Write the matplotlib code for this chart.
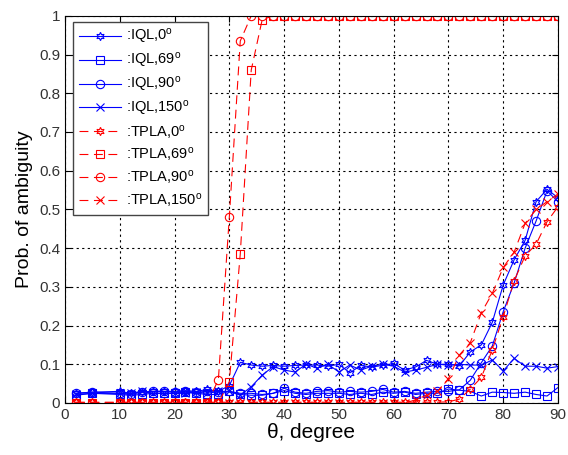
import numpy as np
import matplotlib.pyplot as plt
from matplotlib.ticker import FuncFormatter

plt.rcParams['font.family'] = 'Liberation Sans'
plt.rcParams['mathtext.default'] = 'regular'

# angles: 2, 5, then 10:2:90
theta = [2, 5] + list(range(10, 91, 2))

iql_0 = [0.025, 0.028, 0.030, 0.025, 0.028, 0.030, 0.030, 0.030, 0.032, 0.030,
         0.035, 0.030, 0.045, 0.105, 0.098, 0.095, 0.097, 0.095, 0.097, 0.098,
         0.098, 0.095, 0.100, 0.078, 0.097, 0.093, 0.097, 0.102, 0.085, 0.093,
         0.110, 0.100, 0.100, 0.096, 0.132, 0.150, 0.208, 0.305, 0.370, 0.420,
         0.520, 0.552, 0.530]
iql_69 = [0.020, 0.025, 0.022, 0.020, 0.022, 0.025, 0.025, 0.025, 0.028, 0.025,
          0.022, 0.022, 0.030, 0.022, 0.020, 0.020, 0.025, 0.032, 0.025, 0.022,
          0.025, 0.025, 0.025, 0.022, 0.025, 0.022, 0.028, 0.025, 0.028, 0.022,
          0.025, 0.025, 0.036, 0.033, 0.030, 0.018, 0.028, 0.027, 0.025, 0.028,
          0.022, 0.018, 0.040]
iql_90 = [0.025, 0.028, 0.025, 0.022, 0.028, 0.030, 0.030, 0.028, 0.030, 0.028,
          0.030, 0.028, 0.030, 0.025, 0.025, 0.022, 0.025, 0.038, 0.028, 0.025,
          0.030, 0.032, 0.028, 0.030, 0.028, 0.030, 0.035, 0.028, 0.030, 0.025,
          0.028, 0.030, 0.030, 0.034, 0.059, 0.104, 0.147, 0.236, 0.310, 0.400,
          0.470, 0.548, 0.520]
iql_150 = [0.022, 0.025, 0.025, 0.025, 0.030, 0.025, 0.025, 0.025, 0.025, 0.028,
           0.025, 0.030, 0.030, 0.020, 0.042, 0.072, 0.094, 0.085, 0.080, 0.100,
           0.090, 0.100, 0.080, 0.098, 0.085, 0.095, 0.100, 0.095, 0.080, 0.085,
           0.092, 0.100, 0.098, 0.100, 0.098, 0.098, 0.111, 0.083, 0.115, 0.095,
           0.095, 0.090, 0.094]
tpla_0 = [0.002] * 32 + [0.003, 0.010, 0.036, 0.066, 0.137, 0.223, 0.316, 0.380,
                         0.410, 0.468, 0.507]
tpla_69 = [0.0] * 12 + [0.055, 0.385, 0.860, 0.990] + [1.0] * 27
tpla_90 = [0.0] * 11 + [0.060, 0.480, 0.935] + [1.0] * 29
tpla_150 = [0.0] * 29 + [0.008, 0.020, 0.030, 0.063, 0.124, 0.156, 0.233, 0.283,
                         0.350, 0.390, 0.464, 0.500, 0.520, 0.540]

hexagram = (6, 1, 0)

fig = plt.figure(figsize=(5.68, 4.55), dpi=100)
ax = fig.add_axes([0.1144, 0.1143, 0.868, 0.851])

kw = dict(lw=0.8, ms=6, mfc='none', mew=0.8)
dash = dict(dashes=(8, 5))
ax.plot(theta, iql_0, '-', color='b', marker=hexagram, label=':IQL,0$^o$', **kw)
ax.plot(theta, iql_69, '-', color='b', marker='s', label=':IQL,69$^o$', **kw)
ax.plot(theta, iql_90, '-', color='b', marker='o', label=':IQL,90$^o$', **kw)
ax.plot(theta, iql_150, '-', color='b', marker='x', label=':IQL,150$^o$', **kw)
ax.plot(theta, tpla_0, '--', color='r', marker=hexagram, label=':TPLA,0$^o$', **kw, **dash)
ax.plot(theta, tpla_69, '--', color='r', marker='s', label=':TPLA,69$^o$', **kw, **dash)
ax.plot(theta, tpla_90, '--', color='r', marker='o', label=':TPLA,90$^o$', **kw, **dash)
ax.plot(theta, tpla_150, '--', color='r', marker='x', label=':TPLA,150$^o$', **kw, **dash)

ax.set_xlim(0, 90)
ax.set_ylim(0, 1)
ax.set_xticks(np.arange(0, 91, 10))
ax.set_yticks(np.arange(0, 1.01, 0.1))
ax.yaxis.set_major_formatter(FuncFormatter(lambda v, p: ('%g' % round(v, 2))))
ax.grid(True, linestyle=(0, (2, 3)), color='k', lw=0.8)
ax.tick_params(direction='in', top=True, right=True, labelsize=11, length=4,
               labelcolor='#333333')
for s in ax.spines.values():
    s.set_linewidth(0.8)

ax.set_xlabel('θ, degree', fontsize=15, labelpad=1)
ax.set_ylabel('Prob. of ambiguity', fontsize=14, labelpad=4)

leg = ax.legend(loc='upper left', bbox_to_anchor=(0.016, 0.985), fontsize=10.5,
                fancybox=False, framealpha=1, edgecolor='#444444', handlelength=2.9,
                labelspacing=0.33, borderpad=0.4, handletextpad=0.35,
                borderaxespad=0)
leg.get_frame().set_linewidth(1.0)

fig.savefig('out.png', dpi=100)
